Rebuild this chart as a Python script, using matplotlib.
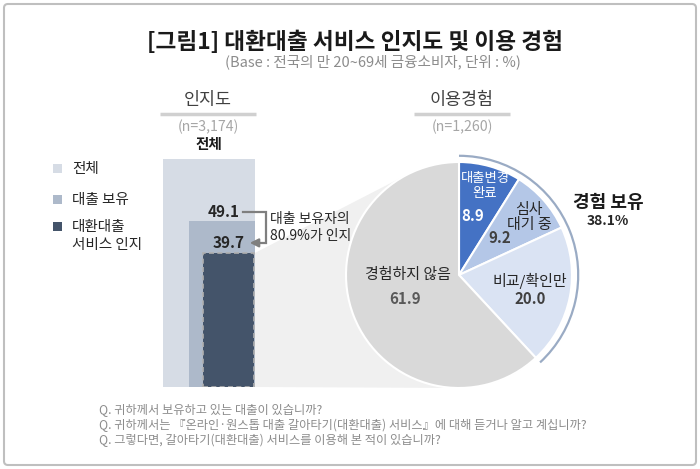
import numpy as np
import matplotlib
matplotlib.use("Agg")
import matplotlib.pyplot as plt
from matplotlib.patches import FancyBboxPatch, Rectangle, Polygon, Arc

plt.rcParams['font.family'] = ['Noto Sans CJK KR', 'DejaVu Sans']

# ---------------- data ----------------
title = "[그림1] 대환대출 서비스 인지도 및 이용 경험"
subtitle = "(Base : 전국의 만 20~69세 금융소비자, 단위 : %)"
bar_labels = ["전체", "대출 보유", "대환대출\n서비스 인지"]
bar_values = [100.0, 49.1, 39.7]
aware_ratio = "대출 보유자의\n80.9%가 인지"
awareness_n = "(n=3,174)"
usage_n = "(n=1,260)"
pie_labels = ["대출변경\n완료", "심사\n대기 중", "비교/확인만", "경험하지 않음"]
pie_values = [8.9, 9.2, 20.0, 61.9]
experienced_label = "경험 보유"
experienced_total = 38.1
questions = [
    "Q. 귀하께서 보유하고 있는 대출이 있습니까?",
    "Q. 귀하께서는 『온라인·원스톱 대출 갈아타기(대환대출) 서비스』에 대해 듣거나 알고 계십니까?",
    "Q. 그렇다면, 갈아타기(대환대출) 서비스를 이용해 본 적이 있습니까?",
]

bar_colors = ["#d6dce5", "#adb9ca", "#44546a"]
pie_colors = ["#4472c4", "#b4c7e7", "#dae3f3", "#d9d9d9"]

W, H = 700, 469
fig = plt.figure(figsize=(W / 100, H / 100), dpi=100)
fig.patch.set_facecolor("white")

# background overlay axes in pixel coordinates
ax0 = fig.add_axes([0, 0, 1, 1], zorder=0)
ax0.set_xlim(0, W)
ax0.set_ylim(H, 0)
ax0.axis("off")

# foreground overlay for texts above the bars
axt = fig.add_axes([0, 0, 1, 1], zorder=5)
axt.set_xlim(0, W)
axt.set_ylim(H, 0)
axt.axis("off")
axt.patch.set_alpha(0)

ax0.add_patch(FancyBboxPatch((4, 4), W - 8, H - 8, boxstyle="round,pad=0,rounding_size=4",
                             fc="white", ec="#bfbfbf", lw=1.5))

ax0.text(355, 42, title, ha="center", va="center", fontsize=16.3, fontweight="bold", color="#1a1a1a")
ax0.text(373, 62, subtitle, ha="center", va="center", fontsize=10.5, color="#8c8c8c")

# section headers
for cx, name, n in [(208, "인지도", awareness_n), (462, "이용경험", usage_n)]:
    ax0.text(cx, 100, name, ha="center", va="center", fontsize=12.5, color="#404040")
    ax0.plot([cx - 48, cx + 48], [114, 114], color="#d0d0d0", lw=2.5, solid_capstyle="butt")
    ax0.text(cx, 127, n, ha="center", va="center", fontsize=10.2, color="#a6a6a6")

ax0.text(209, 144, bar_labels[0], ha="center", va="center", fontsize=10.5, fontweight="bold", color="#1a1a1a")

# legend
leg_y = [169, 200, 227]
for y, lab, c in zip(leg_y, bar_labels, bar_colors):
    ax0.add_patch(Rectangle((53, y - 4.5), 9, 9, fc=c, ec="none"))
    ty = y + 9 if "\n" in lab else y
    ax0.text(72, ty, lab, ha="left", va="center", fontsize=10.5, color="#262626", linespacing=1.3)

# ---------------- bars ----------------
# the "전체" box is shown truncated at the top of the panel, as in the original infographic
bx0, bx1, by0, by1 = 163, 255, 387, 159
axb = fig.add_axes([bx0 / W, (H - by0) / H, (bx1 - bx0) / W, (by0 - by1) / H], zorder=2)
axb.set_xlim(0, bx1 - bx0)
axb.set_ylim(0, 67.5)
axb.axis("off")
axb.bar(0, bar_values[0], width=92, align="edge", color=bar_colors[0], lw=0)
axb.bar(26, bar_values[1], width=66, align="edge", color=bar_colors[1], lw=0)
axb.bar(39.5, bar_values[2], width=51.5, align="edge", color=bar_colors[2],
        ec="#b0b0b0", lw=1.2, ls=(0, (3, 2)))


def to_px(ax, pt):
    d = ax.transData.transform(pt)
    return ax0.transData.inverted().transform(d)


_, y_loan = to_px(axb, (0, bar_values[1]))
_, y_aware = to_px(axb, (0, bar_values[2]))
x_r, y_base = to_px(axb, (91, 0))

ya, yb = y_loan - 9, y_aware - 10
axt.text(240, ya, f"{bar_values[1]:.1f}", ha="right", va="center", fontsize=11,
         fontweight="bold", color="#262626")
axt.text(245, yb, f"{bar_values[2]:.1f}", ha="right", va="center", fontsize=11,
         fontweight="bold", color="#262626")
axt.plot([243, 266, 266, 258], [ya, ya, yb, yb], color="#7f7f7f", lw=1.6, solid_joinstyle="miter")
axt.annotate("", xy=(247, yb), xytext=(260, yb),
             arrowprops=dict(arrowstyle="-|>,head_length=0.5,head_width=0.25", color="#7f7f7f", lw=1.6))
axt.text(270, (ya + yb) / 2, aware_ratio, ha="left", va="center", fontsize=10,
         color="#262626", linespacing=1.3)

# ---------------- pie ----------------
pcx, pcy, pr = 459, 275, 113
span = 1.2
side = 2 * span * pr
axp = fig.add_axes([(pcx - side / 2) / W, (H - pcy - side / 2) / H, side / W, side / H], zorder=2)
axp.pie(pie_values, colors=pie_colors, startangle=90, counterclock=False, radius=1,
        wedgeprops=dict(edgecolor="white", linewidth=1.5))
axp.set_xlim(-span, span)
axp.set_ylim(-span, span)
axp.set_aspect("equal")
axp.axis("off")

exp_end = 90 - 360 * sum(pie_values[:3]) / 100
axp.add_patch(Arc((0, 0), 2.11, 2.11, theta1=exp_end, theta2=90, color="#9aabc4", lw=1.6))

fs = 10.8
axp.text(0.23, 0.79, pie_labels[0], ha="center", va="center", fontsize=9.6, color="white", linespacing=1.1)
axp.text(0.12, 0.52, f"{pie_values[0]:.1f}", ha="center", va="center", fontsize=fs, fontweight="bold", color="white")
axp.text(0.62, 0.51, pie_labels[1], ha="center", va="center", fontsize=fs, color="#262626", linespacing=1.05)
axp.text(0.36, 0.33, f"{pie_values[1]:.1f}", ha="center", va="center", fontsize=fs, fontweight="bold", color="#404040")
axp.text(0.63, -0.05, pie_labels[2], ha="center", va="center", fontsize=fs, color="#262626")
axp.text(0.63, -0.21, f"{pie_values[2]:.1f}", ha="center", va="center", fontsize=fs, fontweight="bold", color="#404040")
axp.text(-0.45, 0.0, pie_labels[3], ha="center", va="center", fontsize=fs, color="#262626")
axp.text(-0.48, -0.21, f"{pie_values[3]:.1f}", ha="center", va="center", fontsize=fs, fontweight="bold", color="#595959")

ax0.text(608, 203, experienced_label, ha="center", va="center", fontsize=13, fontweight="bold", color="#1a1a1a")
ax0.text(608, 221, f"{experienced_total:.1f}%", ha="center", va="center", fontsize=10, fontweight="bold", color="#262626")

# ---------------- zoom connector ----------------
C = to_px(axp, (0, 0))
r_px = to_px(axp, (1, 0))[0] - C[0]


def tangent(P, upper):
    v = C - P
    d = np.hypot(*v)
    th = np.arctan2(v[1], v[0])
    a = np.arcsin(r_px / d)
    L = np.sqrt(d * d - r_px * r_px)
    ang = th - a if upper else th + a
    return P + L * np.array([np.cos(ang), np.sin(ang)])


P_top = np.array([x_r + 1, y_aware])
P_bot = np.array([x_r + 1, y_base])
poly = [P_top, tangent(P_top, True), C, tangent(P_bot, False), P_bot]
ax0.add_patch(Polygon(poly, closed=True, fc="#f0f0f0", ec="none", zorder=1))

# ---------------- questions ----------------
for i, q in enumerate(questions):
    ax0.text(99, 410 + 15 * i, q, ha="left", va="center", fontsize=8.8, color="#8c8c8c")

fig.savefig("out.png", dpi=100, facecolor="white")
